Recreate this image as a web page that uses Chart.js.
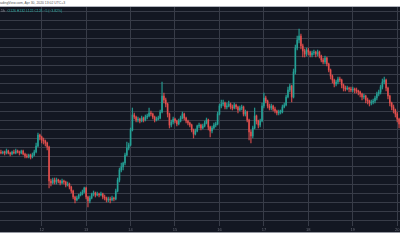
<!DOCTYPE html>
<html>
<head>
<meta charset="utf-8">
<script src="https://cdn.jsdelivr.net/npm/chart.js@4/dist/chart.umd.min.js"></script>
<style>
  html, body { margin: 0; padding: 0; background: #fff; width: 400px; height: 250px; overflow: hidden; }
  #stamp { position: absolute; left: -3px; top: 1px; font: 3.4px "Liberation Sans", Arial, sans-serif; color: #555; white-space: nowrap; }
  #topLine { position: absolute; left: 0; top: 6px; width: 400px; height: 1px; background: #b2b5be; }
  #chartBox { position: absolute; left: 0; top: 7px; width: 400px; height: 226px; overflow: hidden; background: #131722; }
  #chartBox canvas { position: absolute; left: 0; top: 0; }
  #ohlc { position: absolute; left: 1px; top: 2px; font: 3.4px "Liberation Sans", Arial, sans-serif; color: #26a69a; white-space: nowrap; z-index: 2; }
  #ohlc span { color: #9598a1; }
  #bottomLine { position: absolute; left: 0; top: 232px; width: 400px; height: 1px; background: #9598a1; }
</style>
</head>
<body>
<div id="stamp">TradingView.com, Apr 30, 2020 13:02 UTC+3</div>
<div id="topLine"></div>
<div id="chartBox">
  <div id="ohlc"><span>1h</span>&nbsp;&nbsp;&nbsp;O126 H132 L122 C126 &minus;5 (&minus;3.82%)</div>
  <canvas id="chart" width="420" height="226"></canvas>
</div>
<div id="bottomLine"></div>
<script>
var docById = function (id) { return document.getElementById(id); };

// hourly candles (price units are arbitrary, chart has no price axis)
const firstOpen = 98;
const closes = [
  97, 98, 97, 99, 97, 96, 98, 97, 99, 98,
  97, 99, 96, 94, 93, 95, 93, 95, 98, 104,
  115, 113, 110, 109, 107, 103, 69, 67, 70, 68,
  70, 69, 67, 69, 68, 65, 66, 63, 59, 53,
  50, 52, 55, 56, 58, 62, 53, 49, 52, 56,
  57, 55, 56, 55, 56, 53, 52, 50, 51, 50,
  52, 51, 59, 70, 80, 83, 87, 95, 102, 105,
  120, 135, 133, 130, 131, 129, 132, 130, 133, 134,
  137, 136, 133, 130, 131, 132, 138, 154, 150, 146,
  136, 125, 128, 131, 129, 126, 129, 132, 136, 132,
  129, 127, 125, 120, 116, 119, 124, 125, 122, 124,
  127, 130, 123, 119, 122, 125, 126, 136, 144, 146,
  147, 143, 144, 146, 143, 142, 145, 143, 140, 142,
  143, 136, 138, 130, 118, 114, 122, 134, 129, 125,
  129, 144, 152, 149, 144, 142, 144, 141, 139, 137,
  138, 138, 143, 145, 153, 160, 164, 153, 178, 202,
  210, 214, 204, 199, 196, 200, 198, 195, 197, 198,
  196, 198, 194, 190, 188, 192, 186, 180, 174, 170,
  166, 168, 171, 170, 165, 162, 161, 162, 161, 160,
  161, 160, 159, 158, 156, 153, 154, 150, 149, 147,
  148, 149, 152, 156, 158, 163, 168, 170, 162, 154,
  147, 143, 140, 136, 131, 126
];
const highs = [
  100, 99, 99, 101, 100, 98, 99, 100, 101, 100,
  99, 100, 100, 97, 96, 96, 96, 97, 100, 107,
  117, 116, 114, 112, 110, 108, 104, 71, 72, 72,
  72, 71, 70, 71, 70, 69, 68, 67, 64, 60,
  54, 54, 56, 58, 60, 63, 63, 54, 54, 57,
  59, 58, 58, 57, 58, 57, 55, 53, 53, 53,
  54, 53, 61, 72, 82, 87, 88, 97, 108, 107,
  122, 142, 137, 134, 133, 132, 134, 133, 135, 136,
  142, 139, 137, 134, 133, 134, 140, 168, 157, 152,
  147, 137, 130, 133, 132, 130, 131, 134, 138, 137,
  133, 130, 128, 126, 121, 121, 125, 127, 126, 126,
  129, 132, 131, 124, 124, 127, 128, 138, 146, 150,
  150, 148, 147, 149, 147, 145, 147, 146, 144, 144,
  145, 144, 140, 139, 131, 120, 124, 142, 135, 130,
  131, 147, 157, 154, 150, 146, 146, 145, 143, 140,
  140, 140, 145, 147, 155, 163, 166, 165, 181, 205,
  214, 221, 216, 206, 201, 202, 202, 199, 199, 200,
  199, 200, 199, 195, 192, 194, 193, 187, 181, 175,
  171, 170, 173, 173, 171, 166, 164, 164, 163, 163,
  163, 162, 162, 160, 159, 157, 156, 155, 152, 150,
  150, 151, 154, 158, 160, 165, 171, 173, 171, 163,
  155, 148, 145, 141, 138, 132
];
const lows = [
  96, 96, 95, 96, 96, 94, 95, 96, 96, 97,
  95, 96, 95, 92, 92, 92, 91, 92, 94, 97,
  103, 110, 107, 106, 104, 100, 62, 64, 66, 66,
  66, 67, 65, 66, 66, 63, 64, 61, 57, 51,
  47, 49, 51, 54, 55, 57, 51, 43, 47, 51,
  54, 53, 54, 53, 54, 51, 50, 48, 48, 47,
  49, 49, 50, 58, 68, 78, 80, 85, 94, 100,
  104, 119, 131, 128, 128, 127, 128, 128, 129, 131,
  133, 134, 131, 128, 129, 130, 131, 137, 147, 143,
  133, 122, 123, 126, 127, 124, 125, 128, 131, 130,
  127, 125, 123, 118, 112, 115, 118, 122, 120, 121,
  123, 126, 120, 113, 117, 121, 123, 125, 135, 142,
  144, 141, 141, 143, 141, 140, 141, 141, 137, 139,
  140, 134, 134, 128, 110, 107, 112, 121, 126, 122,
  123, 128, 142, 147, 142, 140, 140, 139, 137, 135,
  135, 136, 137, 142, 144, 152, 158, 148, 152, 176,
  200, 207, 201, 193, 193, 194, 195, 193, 193, 195,
  193, 194, 192, 188, 186, 186, 184, 178, 171, 167,
  163, 164, 166, 168, 162, 159, 159, 160, 158, 158,
  158, 157, 157, 155, 153, 150, 151, 147, 146, 144,
  145, 146, 147, 150, 154, 156, 161, 166, 159, 151,
  144, 140, 137, 133, 128, 122
];

// day boundaries (in hours from the first candle) and their labels
const dayTicks = [22, 46, 70, 94, 118, 142, 166, 190, 214];
const dayLabels = ['12', '13', '14', '15', '16', '17', '18', '19', '20'];

// horizontal grid: top line and spacing in price units
const gridTop = 239;
const gridStep = 9.12;

const upColor = 'rgba(38, 166, 154, 0.85)';
const downColor = 'rgba(239, 83, 80, 0.8)';
const gridColor = '#383c48';

let opens = closes.map((c, i) => i === 0 ? firstOpen : closes[i - 1]);
let bodies = closes.map((c, i) => ({ x: i, y: [opens[i], c] }));
let wicks = closes.map((c, i) => ({ x: i, y: [lows[i], highs[i]] }));

function candleColor(ctx) {
  let i = ctx.dataIndex;
  return closes[i] >= opens[i] ? upColor : downColor;
}

new Chart(docById('chart'), {
  type: 'bar',
  data: {
    datasets: [
      { data: bodies, backgroundColor: candleColor, barThickness: 1.0, minBarLength: 1, grouped: false },
      { data: wicks, backgroundColor: candleColor, barThickness: 0.6, grouped: false }
    ]
  },
  options: {
    responsive: false,
    animation: false,
    layout: { padding: 0 },
    scales: {
      x: {
        type: 'linear',
        offset: false,
        min: -0.5,
        max: 226.3,
        grid: { color: gridColor, drawTicks: false, lineWidth: 1, offset: false },
        border: { display: false },
        afterBuildTicks: function (scale) {
          scale.ticks = dayTicks.map(v => ({ value: v }));
        },
        afterFit: function (scale) { scale.height = 7; },
        ticks: {
          padding: 1,
          color: '#6a6d78',
          font: { size: 4, family: 'Liberation Sans' },
          maxRotation: 0,
          autoSkip: false,
          callback: function (val, idx) { return dayLabels[idx]; }
        }
      },
      y: {
        min: 24,
        max: 243,
        grid: { color: gridColor, drawTicks: false, lineWidth: 1 },
        border: { display: false },
        ticks: { display: false },
        afterBuildTicks: function (scale) {
          let t = [];
          for (let v = gridTop; v >= scale.min; v -= gridStep) t.push({ value: v });
          scale.ticks = t;
        },
        afterFit: function (scale) { scale.width = 0; }
      }
    },
    plugins: {
      legend: { display: false },
      tooltip: { enabled: false }
    }
  }
});
</script>
</body>
</html>
